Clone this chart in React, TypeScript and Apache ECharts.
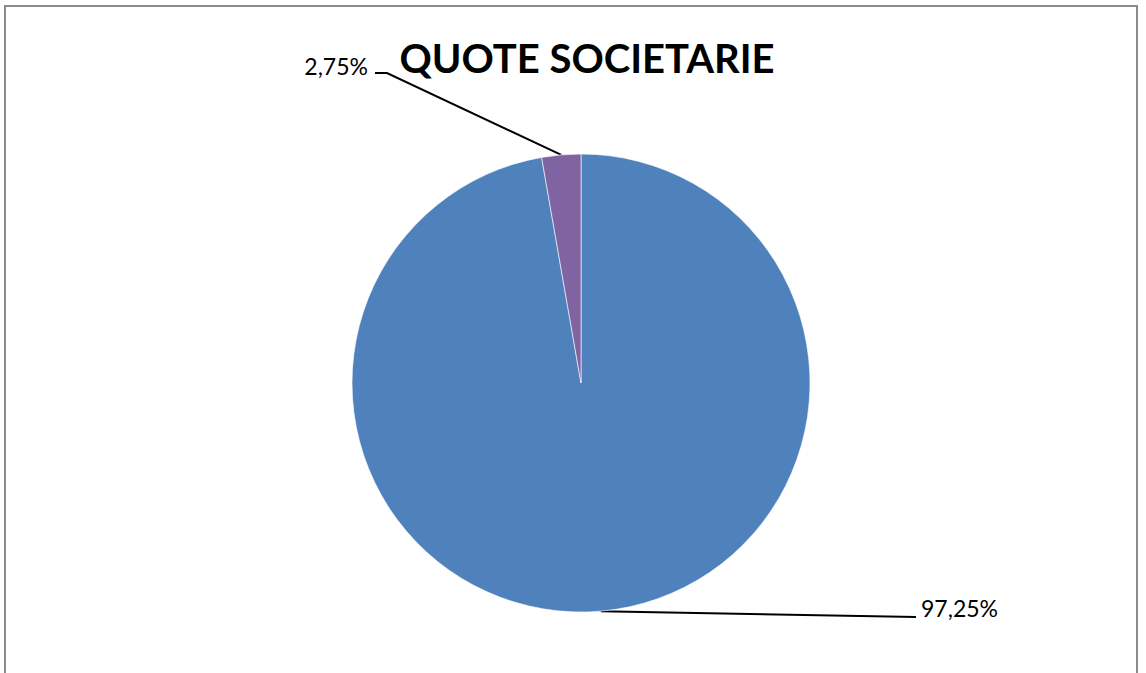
import React, { useEffect, useRef } from "react";
import * as echarts from "echarts";

const categories = ["Socio A", "Socio B"];
const shares = [97.25, 2.75];
const sliceColors = ["#4F81BD", "#8064A2"];
const labelTexts = ["97,25%", "2,75%"];
const titleText = "QUOTE SOCIETARIE";

export default function App() {
  const ref = useRef<HTMLDivElement>(null);
  useEffect(() => {
    if (!ref.current) return;
    const chart = echarts.init(ref.current, null, { renderer: "svg" });
    const data = categories.map((name, i) => ({
      name,
      value: shares[i],
      itemStyle: { color: sliceColors[i] },
      label: { formatter: labelTexts[i] },
    }));
    chart.setOption({
      animation: false,
      backgroundColor: "#ffffff",
      title: {
        text: titleText,
        left: 582,
        top: 33,
        textAlign: "center",
        textStyle: {
          fontFamily: "Lato",
          fontWeight: "bold",
          fontSize: 40,
          color: "#000",
        },
      },
      graphic: [
        {
          type: "rect",
          shape: { x: 5, y: 6, width: 1132, height: 720 },
          style: { fill: "none", stroke: "#8c8c8c", lineWidth: 2 },
          silent: true,
        },
      ],
      series: [
        {
          type: "pie",
          center: [581, 383],
          radius: 229,
          startAngle: 90,
          clockwise: true,
          avoidLabelOverlap: false,
          data,
          itemStyle: { borderColor: "#ffffff", borderWidth: 0.6 },
          label: {
            show: true,
            position: "outside",
            fontFamily: "Lato",
            fontSize: 23,
            color: "#000",
          },
          labelLine: {
            show: true,
            lineStyle: { color: "#000", width: 2 },
          },
          labelLayout: (params: any) => {
            const p0 = params.labelLinePoints ? params.labelLinePoints[0] : [0, 0];
            if (params.dataIndex === 0) {
              return {
                x: 921,
                y: 608,
                align: "left",
                verticalAlign: "middle",
                labelLinePoints: [p0, [916, 617], [916, 617]],
              };
            }
            return {
              x: 368,
              y: 66,
              align: "right",
              verticalAlign: "middle",
              labelLinePoints: [p0, [387, 73], [375, 73]],
            };
          },
        },
      ],
    });
    return () => chart.dispose();
  }, []);
  return (
    <div
      ref={ref}
      style={{ position: "fixed", left: 0, top: 0, width: 1146, height: 673 }}
    />
  );
}
